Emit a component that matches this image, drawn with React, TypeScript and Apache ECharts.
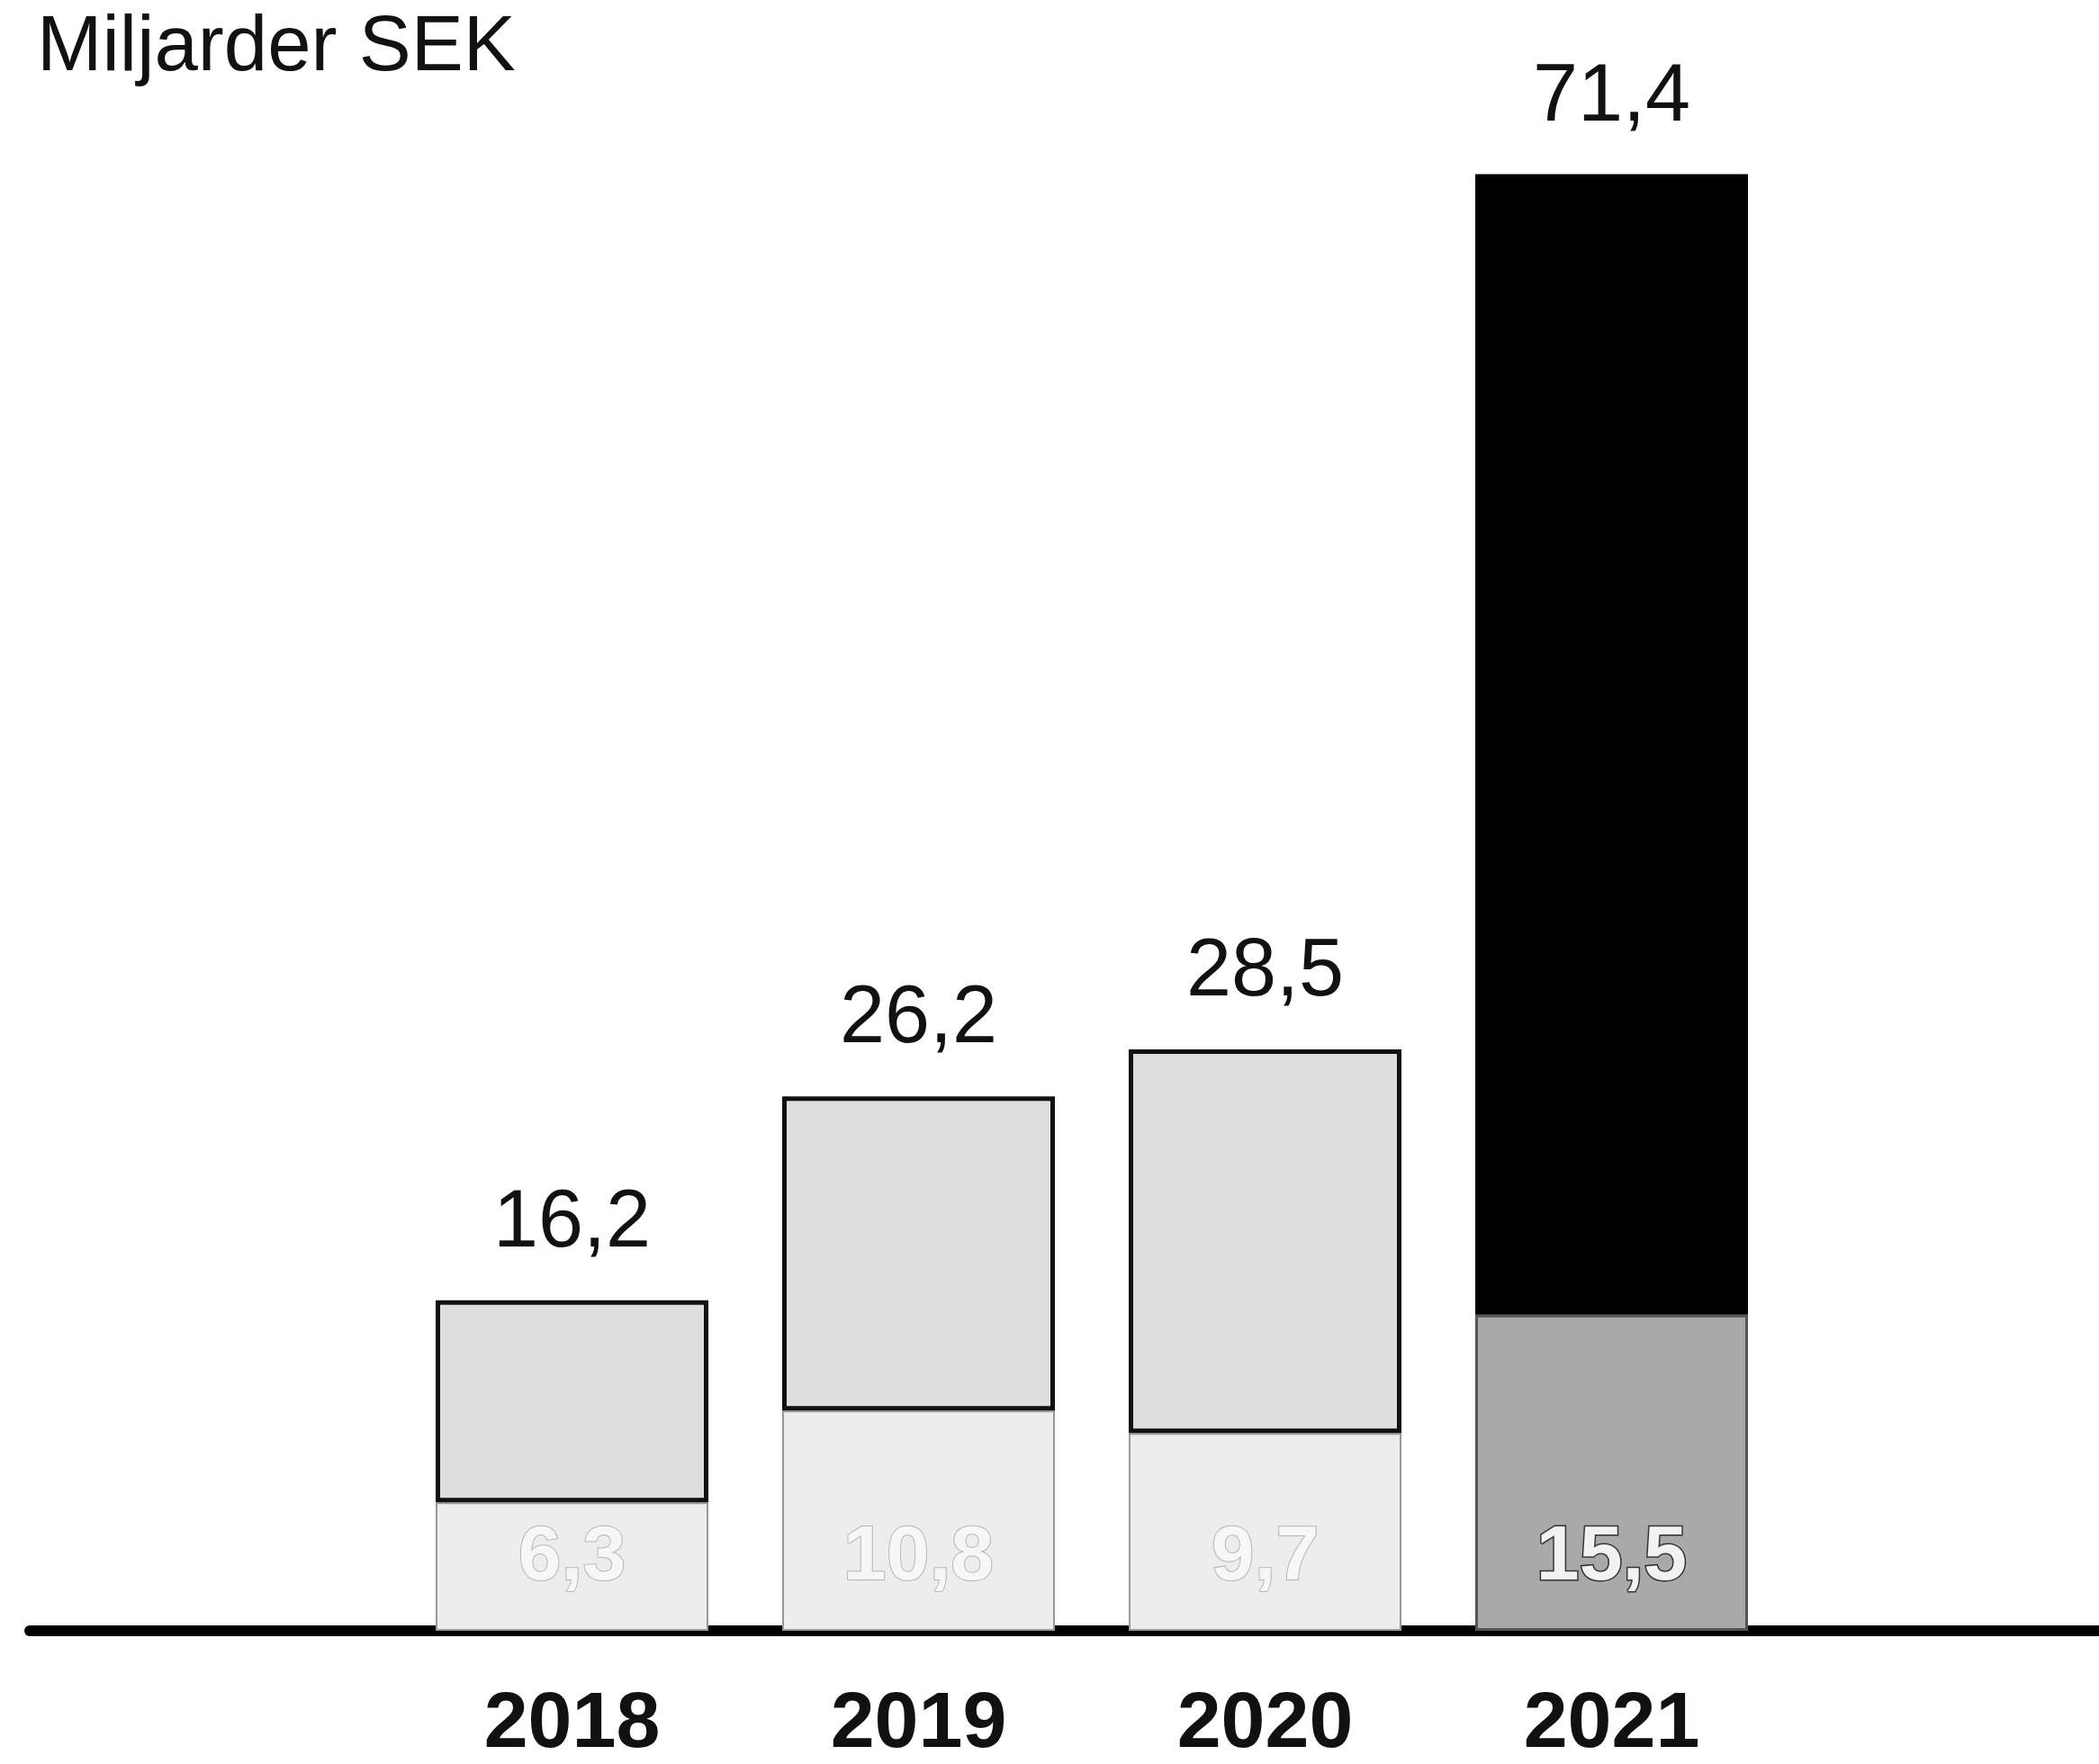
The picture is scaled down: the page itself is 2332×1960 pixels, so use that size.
import React, { useEffect, useRef } from "react";
import * as echarts from "echarts";

const categories = ["2018", "2019", "2020", "2021"];
const bottomValues = [6.3, 10.8, 9.7, 15.5];
const totalValues = [16.2, 26.2, 28.5, 71.4];
const bottomLabels = ["6,3", "10,8", "9,7", "15,5"];
const totalLabels = ["16,2", "26,2", "28,5", "71,4"];
const title = "Miljarder SEK";

const FONT = "Liberation Sans, Arial, sans-serif";

export default function App() {
  const ref = useRef<HTMLDivElement>(null);
  useEffect(() => {
    if (!ref.current) return;
    const chart = echarts.init(ref.current, null, { renderer: "svg" });
    const topValues = totalValues.map((t, i) => Math.round((t - bottomValues[i]) * 10) / 10);
    const gridTop = 112;
    const gridBottom = 148;
    chart.setOption({
      animation: false,
      backgroundColor: "#ffffff",
      title: {
        text: title,
        left: 41,
        top: 2,
        padding: 0,
        textStyle: { fontFamily: FONT, fontSize: 87, lineHeight: 90, fontWeight: "normal", color: "#111" },
      },
      grid: [
        { left: 443, right: 349, top: gridTop, bottom: gridBottom },
        { left: 33, right: 0, top: gridTop, bottom: gridBottom },
      ],
      xAxis: [
        {
          type: "category",
          gridIndex: 0,
          data: categories,
          axisLine: { show: false },
          axisTick: { show: false },
          axisLabel: {
            margin: 54,
            fontFamily: FONT,
            fontSize: 88,
            lineHeight: 88,
            fontWeight: "bold",
            color: "#111",
          },
        },
        {
          type: "value",
          gridIndex: 1,
          min: 0,
          max: 1,
          axisLine: { show: true, lineStyle: { color: "#000", width: 12 } },
          axisTick: { show: false },
          axisLabel: { show: false },
          splitLine: { show: false },
        },
      ],
      yAxis: [
        { type: "value", gridIndex: 0, min: 0, max: 75, show: false },
        { type: "value", gridIndex: 1, min: 0, max: 1, show: false },
      ],
      series: [
        {
          type: "bar",
          stack: "total",
          barWidth: 303,
          xAxisIndex: 0,
          yAxisIndex: 0,
          z: 2,
          data: bottomValues.map((v, i) => ({
            value: v,
            itemStyle:
              i === 3
                ? { color: "#a9a9a9", borderColor: "#555", borderWidth: 3 }
                : { color: "#ededed", borderColor: "#999", borderWidth: 2 },
            label: {
              show: true,
              position: "insideBottom",
              distance: 44,
              formatter: bottomLabels[i],
              fontFamily: FONT,
              fontSize: 86,
              fontWeight: "bold",
              color: i === 3 ? "#f2f2f2" : "#f7f7f7",
              textBorderColor: i === 3 ? "#333" : "#b5b5b5",
              textBorderWidth: i === 3 ? 3 : 2,
            },
          })),
        },
        {
          type: "bar",
          stack: "total",
          barWidth: 303,
          xAxisIndex: 0,
          yAxisIndex: 0,
          z: 3,
          data: topValues.map((v, i) => ({
            value: v,
            itemStyle:
              i === 3
                ? { color: "#000000", borderColor: "#000", borderWidth: 0 }
                : { color: "#dedede", borderColor: "#111", borderWidth: 5 },
            label: {
              show: true,
              position: "top",
              distance: 46,
              formatter: totalLabels[i],
              fontFamily: FONT,
              fontSize: 90,
              fontWeight: "normal",
              color: "#111",
            },
          })),
        },
      ],
    });
    return () => chart.dispose();
  }, []);
  return (
    <div
      ref={ref}
      style={{ position: "fixed", left: 0, top: 0, width: 2332, height: 1960, background: "#fff" }}
    />
  );
}
